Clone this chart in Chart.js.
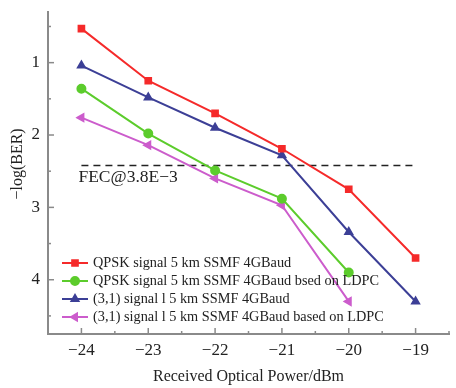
<!DOCTYPE html>
<html>
<head>
<meta charset="utf-8">
<script src="https://cdn.jsdelivr.net/npm/chart.js@4.4.1/dist/chart.umd.min.js"></script>
<style>
  html, body { margin: 0; padding: 0; background: #fff; }
  #wrap { width: 456px; height: 388px; position: relative; }
</style>
</head>
<body>
<div id="wrap"><canvas id="berChart"></canvas></div>
<script>
// ---- données ----
const powers = [-24, -23, -22, -21, -20, -19];
const berTicks = [1, 2, 3, 4];
const qpsk = [0.53, 1.25, 1.70, 2.19, 2.75, 3.70];
const qpskLdpc = [1.36, 1.98, 2.49, 2.88, 3.90];
const sig31 = [1.04, 1.48, 1.90, 2.28, 3.34, 4.30];
const sig31Ldpc = [1.76, 2.14, 2.60, 2.97, 4.30];
const fecLevel = 2.42;
const fecLabel = "FEC@3.8E\u22123";
const yTitle = "\u2212log(BER)";
const labels = [
    "QPSK signal 5 km SSMF 4GBaud",
    "QPSK signal 5 km SSMF 4GBaud bsed on LDPC",
    "(3,1) signal l 5 km SSMF 4GBaud",
    "(3,1) signal l 5 km SSMF 4GBaud based on LDPC"
];

const SERIF = "'Liberation Serif', 'Times New Roman', serif";
const AXIS = "#8a8a8a";

function pts(ys) {
    return ys.map((y, i) => ({ x: powers[i], y: y }));
}

function serie(label, ys, color, style, rot) {
    return {
        label: label,
        data: pts(ys),
        borderColor: color,
        backgroundColor: color,
        borderWidth: 2,
        pointStyle: style,
        rotation: rot || 0,
        pointRadius: 4,
        pointHoverRadius: 4,
        tension: 0
    };
}

// ticks vers l'intérieur + mineurs
const innerTicks = {
    id: "innerTicks",
    afterDraw(chart) {
        const { ctx, scales: { x, y }, chartArea: a } = chart;
        ctx.save();
        ctx.strokeStyle = AXIS;
        ctx.lineWidth = 1.5;
        for (let v = -24.5; v <= -18.5; v += 0.5) {
            const px = x.getPixelForValue(v);
            const len = Number.isInteger(v) ? 6 : 3;
            ctx.beginPath();
            ctx.moveTo(px, a.bottom);
            ctx.lineTo(px, a.bottom - len);
            ctx.stroke();
        }
        for (let v = 0.5; v <= 4.5; v += 0.5) {
            const py = y.getPixelForValue(v);
            const len = Number.isInteger(v) ? 6 : 3;
            ctx.beginPath();
            ctx.moveTo(a.left, py);
            ctx.lineTo(a.left + len, py);
            ctx.stroke();
        }
        ctx.restore();
    }
};

// titre Y, étiquette FEC + légende dessinée à la main (ligne + marqueur)
const annot = {
    id: "annot",
    afterDatasetsDraw(chart) {
        const { ctx, scales: { x, y } } = chart;
        ctx.save();
        ctx.fillStyle = "#222";
        ctx.textBaseline = "middle";
        ctx.textAlign = "center";
        ctx.font = "16px " + SERIF;
        ctx.save();
        ctx.translate(18, y.getPixelForValue(2.4));
        ctx.rotate(-Math.PI / 2);
        ctx.fillText(yTitle, 0, 0);
        ctx.restore();

        ctx.textAlign = "left";
        ctx.font = "17.5px " + SERIF;
        ctx.fillText(fecLabel, x.getPixelForValue(-24) - 3, y.getPixelForValue(fecLevel) + 12);

        ctx.font = "14.3px " + SERIF;
        const x0 = 62, x1 = 88, tx = 93;
        let ly = 263;
        for (let i = 0; i < 4; i++) {
            const ds = chart.data.datasets[i];
            ctx.strokeStyle = ds.borderColor;
            ctx.lineWidth = 2;
            ctx.beginPath();
            ctx.moveTo(x0, ly);
            ctx.lineTo(x1, ly);
            ctx.stroke();
            ctx.fillStyle = ds.backgroundColor;
            Chart.helpers.drawPoint(ctx, { pointStyle: ds.pointStyle, rotation: ds.rotation, radius: 4, borderWidth: 1 }, (x0 + x1) / 2, ly);
            ctx.fillStyle = "#222";
            ctx.fillText(labels[i], tx, ly);
            ly += 18;
        }
        ctx.restore();
    }
};

new Chart(document.getElementById("berChart").getContext("2d"), {
    type: "line",
    data: {
        datasets: [
            serie(labels[0], qpsk, "#f52a2a", "rect"),
            serie(labels[1], qpskLdpc, "#5ccc2c", "circle"),
            serie(labels[2], sig31, "#3c3f96", "triangle"),
            serie(labels[3], sig31Ldpc, "#cc5ccc", "triangle", -90),
            {
                label: "FEC",
                data: [{ x: powers[0], y: fecLevel }, { x: powers[5], y: fecLevel }],
                borderColor: "#222",
                borderWidth: 1.5,
                borderDash: [7, 5],
                pointRadius: 0
            }
        ]
    },
    options: {
        responsive: true,
        maintainAspectRatio: false,
        animation: false,
        layout: { padding: { top: 12, right: 7, left: 0, bottom: 0 } },
        plugins: { legend: { display: false }, tooltip: { enabled: false } },
        scales: {
            x: {
                type: "linear",
                min: -24.5,
                max: -18.5,
                afterBuildTicks: s => { s.ticks = powers.map(v => ({ value: v })); },
                afterFit: s => { s.height = 54; s.paddingLeft = 0; s.paddingRight = 0; },
                grid: { display: false, drawTicks: false },
                border: { display: true, color: AXIS, width: 2 },
                ticks: {
                    padding: 6,
                    color: "#222",
                    autoSkip: false,
                    maxRotation: 0,
                    font: { family: SERIF, size: 17 },
                    callback: v => String(v).replace("-", "\u2212")
                },
                title: {
                    display: true,
                    text: "Received Optical Power/dBm",
                    color: "#222",
                    font: { family: SERIF, size: 16 },
                    padding: { top: 0, bottom: 2 }
                }
            },
            y: {
                type: "linear",
                reverse: true,
                min: 0.3,
                max: 4.75,
                afterBuildTicks: s => { s.ticks = berTicks.map(v => ({ value: v })); },
                afterFit: s => { s.width = 48; s.paddingTop = 0; s.paddingBottom = 0; },
                grid: { display: false, drawTicks: false },
                border: { display: true, color: AXIS, width: 2 },
                ticks: {
                    padding: 8,
                    color: "#222",
                    font: { family: SERIF, size: 17 }
                },
                title: { display: false }
            }
        }
    },
    plugins: [innerTicks, annot]
});
</script>
</body>
</html>
